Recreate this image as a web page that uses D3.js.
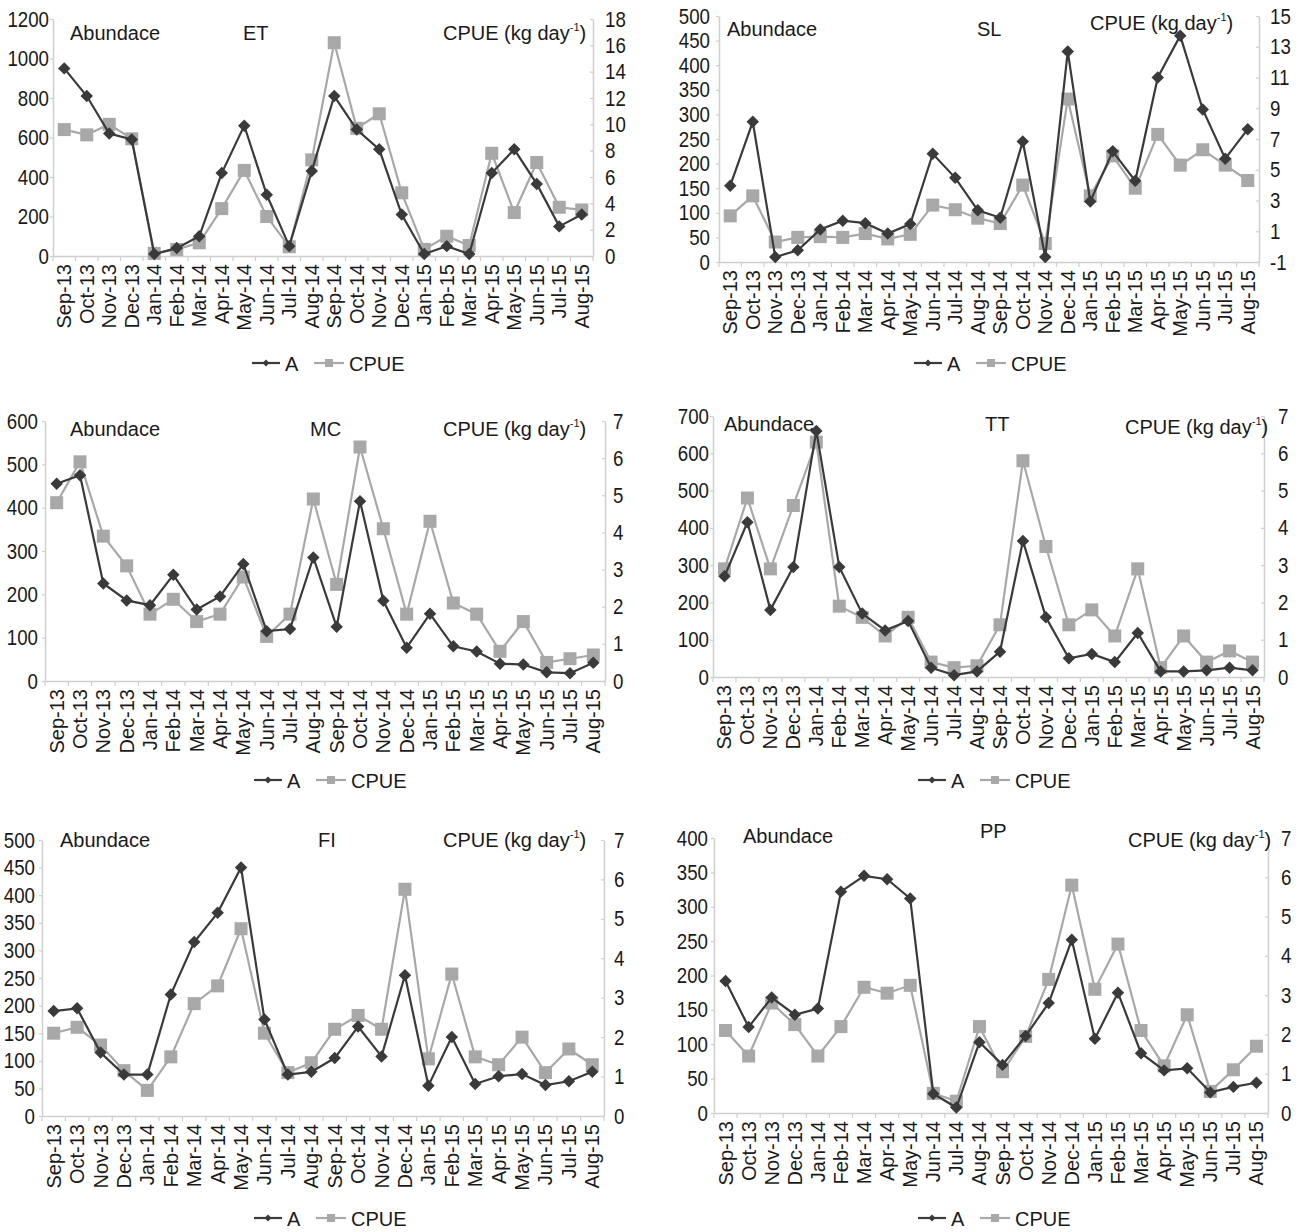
<!DOCTYPE html>
<html>
<head>
<meta charset="utf-8">
<script src="https://cdn.jsdelivr.net/npm/d3@7"></script>
<style>
  body { margin: 0; background: #fff; }
  svg text { font-family: "Liberation Sans", Arial, sans-serif; fill: #1a1a1a; }
</style>
</head>
<body>
<svg width="1300" height="1232"></svg>
<script>
var months = ["Sep-13", "Oct-13", "Nov-13", "Dec-13", "Jan-14", "Feb-14", "Mar-14", "Apr-14",
    "May-14", "Jun-14", "Jul-14", "Aug-14", "Sep-14", "Oct-14", "Nov-14", "Dec-14",
    "Jan-15", "Feb-15", "Mar-15", "Apr-15", "May-15", "Jun-15", "Jul-15", "Aug-15"];

// abundance (A, left axis) and CPUE (right axis) per species
var etA    = [950, 810, 620, 590, 10, 40, 100, 420, 660, 310, 50, 430, 810, 640, 540, 210, 10, 50, 10, 420, 540, 365, 150, 210];
var etCPUE = [9.6, 9.2, 10, 8.9, 0.2, 0.5, 1.0, 3.6, 6.5, 3.0, 0.7, 7.3, 16.2, 9.7, 10.8, 4.8, 0.5, 1.5, 0.8, 7.8, 3.3, 7.1, 3.7, 3.5];
var slA    = [155, 285, 10, 24, 66, 84, 79, 58, 77, 220, 171, 105, 90, 245, 10, 428, 123, 225, 165, 375, 460, 310, 210, 270];
var slCPUE = [2.0, 3.3, 0.3, 0.6, 0.65, 0.6, 0.85, 0.5, 0.8, 2.7, 2.4, 1.85, 1.5, 4.0, 0.2, 9.6, 3.3, 5.9, 3.8, 7.3, 5.3, 6.3, 5.3, 4.3];
var mcA    = [455, 475, 225, 186, 175, 245, 165, 195, 270, 115, 120, 285, 125, 415, 185, 77, 155, 80, 68, 40, 38, 20, 18, 42];
var mcCPUE = [4.8, 5.9, 3.9, 3.1, 1.8, 2.2, 1.6, 1.8, 2.8, 1.2, 1.8, 4.9, 2.6, 6.3, 4.1, 1.8, 4.3, 2.1, 1.8, 0.8, 1.6, 0.5, 0.6, 0.7];
var ttA    = [270, 415, 180, 295, 660, 295, 170, 125, 150, 25, 5, 15, 68, 365, 160, 50, 62, 40, 118, 15, 15, 18, 25, 18];
var ttCPUE = [2.9, 4.8, 2.9, 4.6, 6.3, 1.9, 1.6, 1.1, 1.6, 0.4, 0.25, 0.3, 1.4, 5.8, 3.5, 1.4, 1.8, 1.1, 2.9, 0.25, 1.1, 0.4, 0.7, 0.4];
var fiA    = [190, 195, 115, 75, 75, 220, 315, 368, 450, 175, 75, 80, 105, 162, 108, 255, 55, 143, 58, 72, 76, 56, 63, 80];
var fiCPUE = [2.1, 2.25, 1.8, 1.15, 0.65, 1.5, 2.85, 3.3, 4.75, 2.1, 1.1, 1.35, 2.2, 2.55, 2.2, 5.75, 1.45, 3.6, 1.5, 1.3, 2.0, 1.1, 1.7, 1.3];
var ppA    = [192, 125, 168, 143, 152, 322, 345, 340, 312, 28, 8, 103, 70, 112, 160, 252, 108, 175, 87, 62, 65, 30, 38, 44];
var ppCPUE = [2.1, 1.45, 2.8, 2.25, 1.45, 2.2, 3.2, 3.05, 3.25, 0.5, 0.3, 2.2, 1.05, 1.95, 3.4, 5.8, 3.15, 4.3, 2.1, 1.2, 2.5, 0.55, 1.1, 1.7];

// tick labels
var etLeftTicks  = [0, 200, 400, 600, 800, 1000, 1200];
var etRightTicks = [0, 2, 4, 6, 8, 10, 12, 14, 16, 18];
var slLeftTicks  = [0, 50, 100, 150, 200, 250, 300, 350, 400, 450, 500];
var slRightTicks = [-1, 1, 3, 5, 7, 9, 11, 13, 15];
var mcLeftTicks  = [0, 100, 200, 300, 400, 500, 600];
var ttLeftTicks  = [0, 100, 200, 300, 400, 500, 600, 700];
var fiLeftTicks  = [0, 50, 100, 150, 200, 250, 300, 350, 400, 450, 500];
var ppLeftTicks  = [0, 50, 100, 150, 200, 250, 300, 350, 400];
var sevenTicks   = [0, 1, 2, 3, 4, 5, 6, 7];

var panels = [
    {name: "ET", a: etA, c: etCPUE, ld: [0, 1200], rd: [0, 18], lt: etLeftTicks, rt: etRightTicks,
        x0: 53, x1: 593, y0: 19, y1: 256, lp: 1, rp: 12,
        ab: [70, 40], nm: [243, 40], cp: [443, 40], leg: [252, 363]},
    {name: "SL", a: slA, c: slCPUE, ld: [0, 500], rd: [-1, 15], lt: slLeftTicks, rt: slRightTicks,
        x0: 719, x1: 1259, y0: 16, y1: 262, lp: 6, rp: 11,
        ab: [727, 36], nm: [977, 36], cp: [1090, 30], leg: [914, 363]},
    {name: "MC", a: mcA, c: mcCPUE, ld: [0, 600], rd: [0, 7], lt: mcLeftTicks, rt: sevenTicks,
        x0: 45, x1: 605, y0: 421, y1: 681, lp: 4, rp: 8,
        ab: [70, 436], nm: [310, 436], cp: [443, 436], leg: [254, 780]},
    {name: "TT", a: ttA, c: ttCPUE, ld: [0, 700], rd: [0, 7], lt: ttLeftTicks, rt: sevenTicks,
        x0: 713, x1: 1264, y0: 416, y1: 677, lp: 1, rp: 14,
        ab: [724, 431], nm: [985, 431], cp: [1125, 434], leg: [918, 780]},
    {name: "FI", a: fiA, c: fiCPUE, ld: [0, 500], rd: [0, 7], lt: fiLeftTicks, rt: sevenTicks,
        x0: 42, x1: 604, y0: 840, y1: 1116, lp: 4, rp: 10,
        ab: [60, 847], nm: [318, 847], cp: [443, 847], leg: [254, 1218]},
    {name: "PP", a: ppA, c: ppCPUE, ld: [0, 400], rd: [0, 7], lt: ppLeftTicks, rt: sevenTicks,
        x0: 714, x1: 1268, y0: 838, y1: 1113, lp: 3, rp: 13,
        ab: [743, 843], nm: [980, 838], cp: [1128, 847], leg: [918, 1218]}
];

var svg = d3.select("svg");
var darkCol = "#3a3a3a", lightCol = "#a8a8a8", axisCol = "#cfcfcf";

panels.forEach(drawPanel);

// condense text like the narrow font of the original
function squeeze(sel, f) {
    sel.each(function () {
        var len = this.getComputedTextLength();
        d3.select(this).attr("textLength", len * f).attr("lengthAdjust", "spacingAndGlyphs");
    });
}

function drawPanel(p) {
    var g = svg.append("g").attr("class", "panel");

    var x = d3.scaleBand().domain(months).range([p.x0, p.x1]);
    var yL = d3.scaleLinear().domain(p.ld).range([p.y1, p.y0]);
    var yR = d3.scaleLinear().domain(p.rd).range([p.y1, p.y0]);
    var cx = function (d, i) { return x(months[i]) + x.bandwidth() / 2; };
    var fmt = function (d) { return String(d); };

    // x axis, labels rotated, ticks between categories
    var xa = g.append("g")
        .attr("transform", "translate(0," + p.y1 + ")")
        .call(d3.axisBottom(x).tickSize(0).tickPadding(0));
    xa.select(".domain").attr("stroke", axisCol).attr("stroke-width", 1.5);
    xa.selectAll("text")
        .attr("font-size", 20)
        .attr("text-anchor", "end")
        .attr("transform", "translate(7,8) rotate(-90)")
        .attr("dy", 0).attr("y", 0).attr("x", 0);
    g.append("g").selectAll("line")
        .data(d3.range(months.length + 1))
        .enter().append("line")
        .attr("x1", function (i) { return p.x0 + i * x.step(); })
        .attr("x2", function (i) { return p.x0 + i * x.step(); })
        .attr("y1", p.y1).attr("y2", p.y1 + 5)
        .attr("stroke", axisCol).attr("stroke-width", 1.2);

    // left axis
    var la = g.append("g")
        .attr("transform", "translate(" + p.x0 + ",0)")
        .call(d3.axisLeft(yL).tickValues(p.lt).tickFormat(fmt)
            .tickSizeInner(3).tickSizeOuter(0).tickPadding(p.lp));
    // right axis
    var ra = g.append("g")
        .attr("transform", "translate(" + p.x1 + ",0)")
        .call(d3.axisRight(yR).tickValues(p.rt).tickFormat(fmt)
            .tickSizeInner(-3).tickSizeOuter(0).tickPadding(p.rp));
    [la, ra].forEach(function (ax) {
        ax.select(".domain").attr("stroke", axisCol).attr("stroke-width", 1.5);
        ax.selectAll(".tick line").attr("stroke", axisCol).attr("stroke-width", 1.2);
        ax.selectAll("text").attr("font-size", 22).attr("fill", "#1a1a1a").call(squeeze, 0.85);
    });

    // CPUE series (light) drawn first, abundance on top
    var lineC = d3.line().x(cx).y(function (d) { return yR(d); });
    var lineA = d3.line().x(cx).y(function (d) { return yL(d); });

    g.append("path").datum(p.c)
        .attr("d", lineC).attr("fill", "none")
        .attr("stroke", lightCol).attr("stroke-width", 2.2);
    g.append("g").selectAll("rect").data(p.c).enter().append("rect")
        .attr("x", function (d, i) { return cx(d, i) - 6.5; })
        .attr("y", function (d) { return yR(d) - 6.5; })
        .attr("width", 13).attr("height", 13)
        .attr("fill", lightCol);

    g.append("path").datum(p.a)
        .attr("d", lineA).attr("fill", "none")
        .attr("stroke", darkCol).attr("stroke-width", 2.2);
    var diamond = d3.symbol().type(d3.symbolSquare).size(78);
    g.append("g").selectAll("path").data(p.a).enter().append("path")
        .attr("d", diamond)
        .attr("transform", function (d, i) { return "translate(" + cx(d, i) + "," + yL(d) + ") rotate(45)"; })
        .attr("fill", darkCol);

    // labels inside the plot
    g.append("text").attr("x", p.ab[0]).attr("y", p.ab[1]).attr("font-size", 20).text("Abundace");
    g.append("text").attr("x", p.nm[0]).attr("y", p.nm[1]).attr("font-size", 20).text(p.name);
    var cp = g.append("text").attr("x", p.cp[0]).attr("y", p.cp[1]).attr("font-size", 20);
    cp.append("tspan").text("CPUE (kg day");
    cp.append("tspan").attr("font-size", 11).attr("dy", -9).text("-1");
    cp.append("tspan").attr("dy", 9).text(")");

    // legend
    var lg = g.append("g").attr("transform", "translate(" + p.leg[0] + "," + p.leg[1] + ")");
    lg.append("line").attr("x1", 0).attr("x2", 28).attr("y1", 0).attr("y2", 0)
        .attr("stroke", darkCol).attr("stroke-width", 2.2);
    lg.append("path").attr("d", d3.symbol().type(d3.symbolSquare).size(24))
        .attr("transform", "translate(14,0) rotate(45)").attr("fill", darkCol);
    lg.append("text").attr("x", 33).attr("y", 8).attr("font-size", 20).text("A");
    lg.append("line").attr("x1", 62).attr("x2", 92).attr("y1", 0).attr("y2", 0)
        .attr("stroke", lightCol).attr("stroke-width", 2.2);
    lg.append("rect").attr("x", 73).attr("y", -4).attr("width", 8).attr("height", 8).attr("fill", lightCol);
    lg.append("text").attr("x", 97).attr("y", 8).attr("font-size", 20).text("CPUE");
}
</script>
</body>
</html>
